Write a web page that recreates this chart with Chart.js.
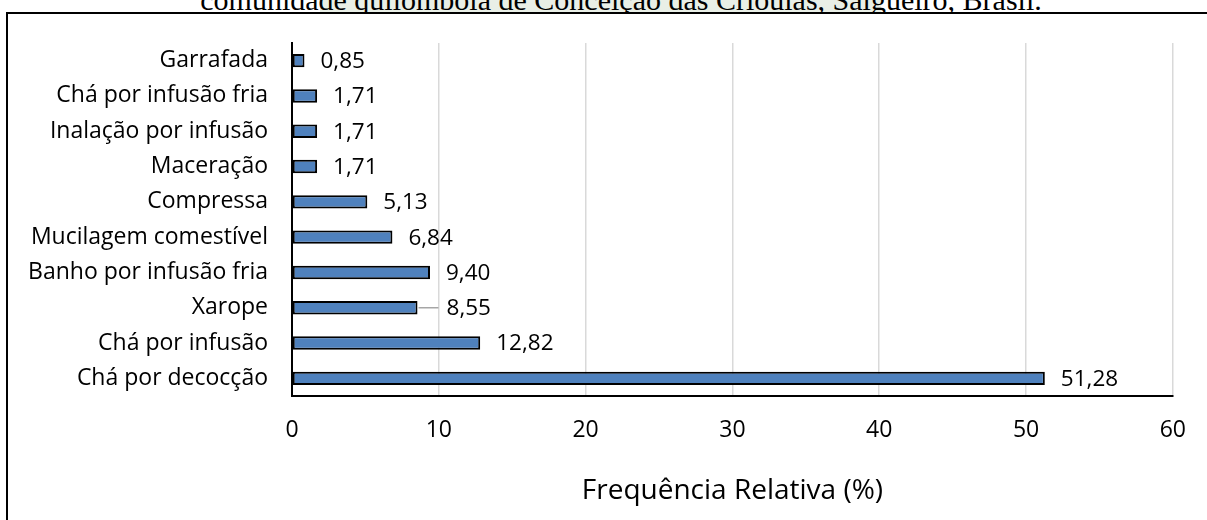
<!DOCTYPE html>
<html>
<head>
<meta charset="utf-8">
<script src="https://cdn.jsdelivr.net/npm/chart.js@4"></script>
<style>
body{margin:0;background:#fff;overflow:hidden}
#wrap{position:relative;width:1207px;height:520px;overflow:hidden;background:#fff}
#mark{position:absolute;left:320px;top:0;width:561px;height:13px;background:#e9efe6}
#caption{position:absolute;left:0;width:1242px;text-align:center;top:-15px;line-height:30px;font-family:"Liberation Serif";font-size:30px;white-space:nowrap;color:#000}
#frame{position:absolute;left:6px;top:12px;width:1300px;height:600px;border-left:2px solid #000;border-top:2px solid #000;background:#fff}
canvas{position:absolute;left:0;top:0}
</style>
</head>
<body>
<div id="wrap">
<div id="mark"></div>
<div id="caption">comunidade quilombola de Conceição das Crioulas, Salgueiro, Brasil.</div>
<div id="frame"></div>
<canvas id="chart" width="1207" height="520"></canvas>
</div>
<script>

let categories=[
"Garrafada",
"Chá por infusão fria",
"Inalação por infusão",
"Maceração",
"Compressa",
"Mucilagem comestível",
"Banho por infusão fria",
"Xarope",
"Chá por infusão",
"Chá por decocção"
]

let frequencia=[0.85,1.71,1.71,1.71,5.13,6.84,9.40,8.55,12.82,51.28]

let xTicks=[0,10,20,30,40,50,60]

let axisTitle="Frequência Relativa (%)"

let font="'Open Sans'"


// value labels next to each bar, the Xarope one is pulled out with a leader line
let barLabels={
id:"barLabels",
afterDatasetsDraw(chart){

let ctx=chart.ctx
let meta=chart.getDatasetMeta(0)

ctx.save()
ctx.font="22.5px "+font
ctx.fillStyle="#000"
ctx.textBaseline="middle"

meta.data.forEach((bar,i)=>{

let x=bar.x+16

if(categories[i]=="Xarope"){
ctx.strokeStyle="#a6a6a6"
ctx.lineWidth=1.5
ctx.beginPath()
ctx.moveTo(bar.x+1,bar.y)
ctx.lineTo(bar.x+21,bar.y)
ctx.stroke()
x=bar.x+29
}

ctx.fillText(
frequencia[i].toFixed(2).replace(".",","),
x,
bar.y+1
)

})

ctx.restore()
}
}


new Chart(
document.getElementById("chart"),
{
type:"bar",
data:{
labels:categories,
datasets:[{
data:frequencia,
backgroundColor:"#4f81bd",
borderColor:"#000",
borderWidth:2,
borderSkipped:false,
categoryPercentage:1,
barPercentage:0.38
}]
},
options:{
indexAxis:"y",
responsive:false,
animation:false,
layout:{padding:{top:43,right:33,left:0,bottom:0}},
plugins:{
legend:{display:false},
tooltip:{enabled:false}
},
scales:{
x:{
min:0,
max:60,
afterBuildTicks:s=>{s.ticks=xTicks.map(v=>({value:v}))},
afterFit:s=>{s.height=124},
grid:{color:"#d9d9d9",lineWidth:1.5,drawTicks:false},
border:{color:"#000",width:2},
ticks:{
font:{family:font,size:23},
color:"#000",
padding:21
},
title:{
display:true,
text:axisTitle,
font:{family:font,size:28},
color:"#000",
padding:{top:0,bottom:12}
}
},
y:{
afterFit:s=>{s.width=292},
grid:{display:false,drawTicks:false},
border:{color:"#000",width:2},
ticks:{
font:{family:font,size:23},
color:"#000",
padding:24
}
}
}
},
plugins:[barLabels]
})

</script>
</body>
</html>
